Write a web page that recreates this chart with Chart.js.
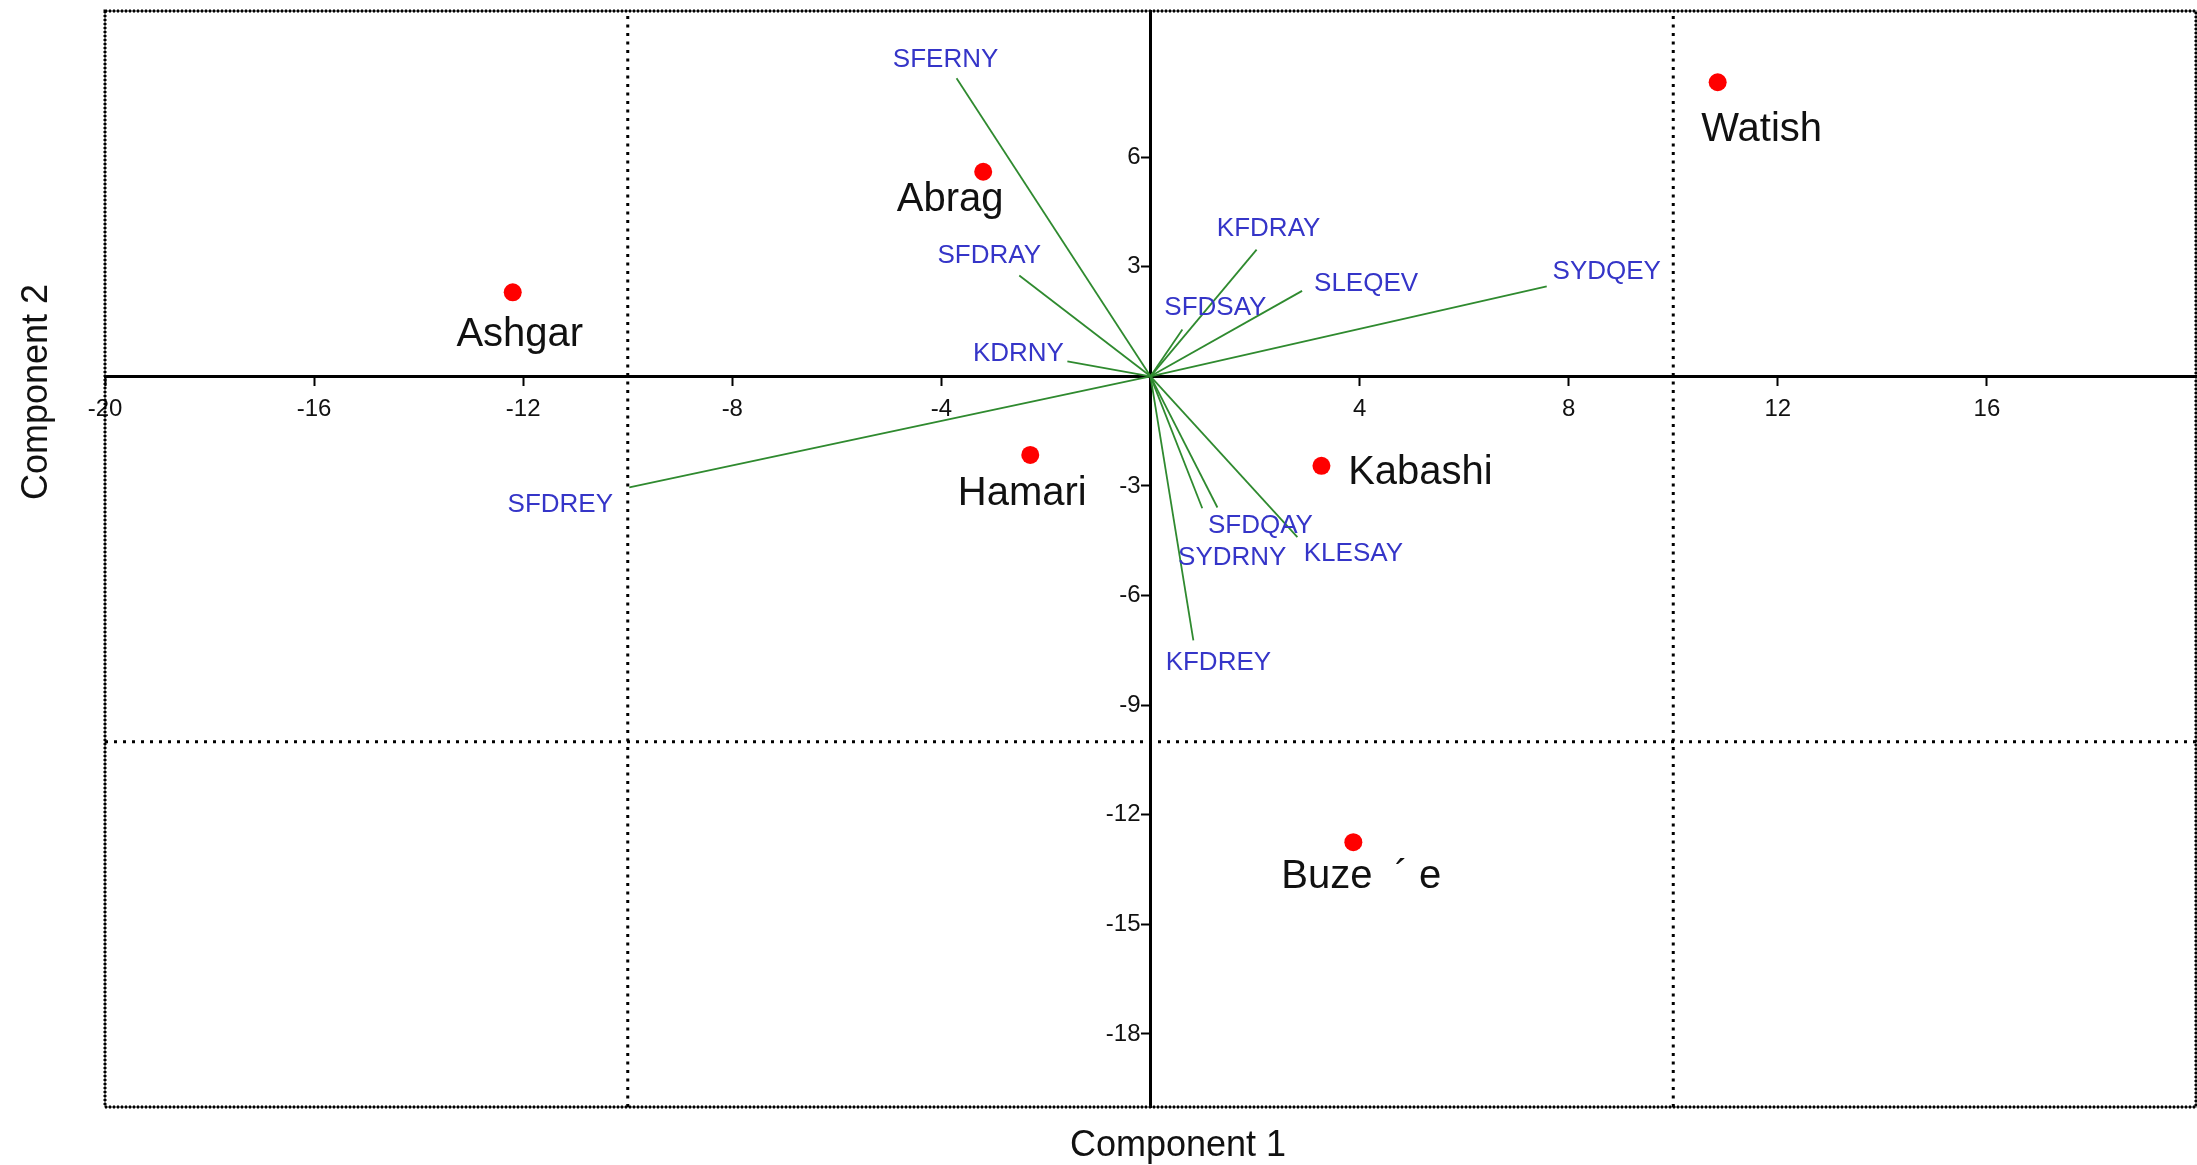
<!DOCTYPE html>
<html>
<head>
<meta charset="utf-8">
<title>PCA biplot</title>
<script src="https://cdn.jsdelivr.net/npm/chart.js@4/dist/chart.umd.min.js"></script>
<style>
  html, body { margin: 0; padding: 0; background: #fff; overflow: hidden; }
  #biplot { display: block; }
</style>
</head>
<body>
<canvas id="biplot" width="2197" height="1165"></canvas>
<script>
// sites (red points)
var siteNames = ['Ashgar', 'Abrag', 'Watish', 'Hamari', 'Kabashi', 'Buze  \u00B4 e'];
var siteX = [-12.2, -3.2, 10.85, -2.3, 3.27, 3.88];
var siteY = [2.3, 5.6, 8.05, -2.15, -2.45, -12.75];

// variable loadings (green vectors)
var varNames = ['SFERNY', 'SFDRAY', 'KDRNY', 'KFDRAY', 'SFDSAY', 'SLEQEV', 'SYDQEY', 'SFDREY', 'SFDQAY', 'SYDRNY', 'KLESAY', 'KFDREY'];
var varX = [-3.71, -2.51, -1.59, 2.03, 0.61, 2.9, 7.58, -9.97, 1.28, 0.99, 2.81, 0.82];
var varY = [8.16, 2.76, 0.41, 3.47, 1.28, 2.34, 2.46, -3.04, -3.59, -3.61, -4.4, -7.23];

// axes
var xRange = [-20, 20];
var yRange = [-20, 10];
var xTicks = [-20, -16, -12, -8, -4, 4, 8, 12, 16];
var yTicks = [6, 3, -3, -6, -9, -12, -15, -18];
var refLinesX = [-10, 10];
var refLinesY = [-10];

// label placement (pixels from the mark: text centre, cap centre)
var siteLabelOffset = [[7, 39], [-33, 25], [44, 44], [-8, 36], [99, 4], [8, 32]];
var varLabelOffset = [[-11, -21], [-30, -22], [-49, -10], [12, -23], [33, -24], [64, -9], [60, -17], [-69, 15], [43, 16], [30, 47], [56, 15], [25, 20]];

var FONT = '"Liberation Sans", Arial, sans-serif';
var green = '#2f8a2f';
var blue = '#3535c8';

var datasets = [];

datasets.push({
  label: 'sites',
  data: siteX.map(function(x, i) { return {x: x, y: siteY[i]}; }),
  pointRadius: 9,
  pointHoverRadius: 9,
  pointBackgroundColor: '#ff0000',
  pointBorderWidth: 0,
  showLine: false
});

varNames.forEach(function(name, i) {
  datasets.push({
    label: name,
    data: [{x: 0, y: 0}, {x: varX[i], y: varY[i]}],
    showLine: true,
    borderColor: green,
    borderWidth: 1.8,
    pointRadius: 0
  });
});

refLinesX.forEach(function(v) {
  datasets.push({
    label: 'x=' + v,
    data: [{x: v, y: yRange[0]}, {x: v, y: yRange[1]}],
    showLine: true,
    borderColor: '#000',
    borderWidth: 3,
    borderDash: [3, 5.5],
    pointRadius: 0
  });
});

refLinesY.forEach(function(v) {
  datasets.push({
    label: 'y=' + v,
    data: [{x: xRange[0], y: v}, {x: xRange[1], y: v}],
    showLine: true,
    borderColor: '#000',
    borderWidth: 3,
    borderDash: [3, 6],
    pointRadius: 0
  });
});

var framePlugin = {
  id: 'frame',
  beforeDatasetsDraw: function(chart) {
    var a = chart.chartArea;
    var ctx = chart.ctx;
    ctx.save();
    ctx.strokeStyle = '#000';
    ctx.lineWidth = 1;
    ctx.strokeRect(a.left, a.top, a.right - a.left, a.bottom - a.top);
    ctx.lineWidth = 3;
    ctx.setLineDash([2, 2]);
    ctx.strokeRect(a.left, a.top, a.right - a.left, a.bottom - a.top);
    ctx.restore();
  }
};

var labelPlugin = {
  id: 'pcaLabels',
  afterDatasetsDraw: function(chart) {
    var ctx = chart.ctx;
    var a = chart.chartArea;
    ctx.save();
    ctx.textAlign = 'center';
    ctx.textBaseline = 'alphabetic';

    ctx.font = '26px ' + FONT;
    ctx.fillStyle = blue;
    varNames.forEach(function(name, i) {
      var end = chart.getDatasetMeta(i + 1).data[1];
      var off = varLabelOffset[i];
      ctx.fillText(name, end.x + off[0], end.y + off[1] + 0.358 * 26);
    });

    ctx.font = '40px ' + FONT;
    ctx.fillStyle = '#111';
    var pts = chart.getDatasetMeta(0).data;
    siteNames.forEach(function(name, i) {
      var off = siteLabelOffset[i];
      ctx.fillText(name, pts[i].x + off[0], pts[i].y + off[1] + 0.358 * 40);
    });

    // axis titles
    ctx.font = '36px ' + FONT;
    ctx.fillStyle = '#111';
    ctx.fillText('Component 1', a.left + 1073, a.bottom + 49);
    ctx.translate(a.left - 58, a.top + 381);
    ctx.rotate(-Math.PI / 2);
    ctx.fillText('Component 2', 0, 0);
    ctx.restore();
  }
};

var axisBorder = {display: true, color: '#000', width: 3, dash: [2, 2]};
var axisGrid = {drawOnChartArea: false, drawTicks: true, tickLength: 8, tickWidth: 2, tickColor: '#000'};

var chart = new Chart(document.getElementById('biplot'), {
  type: 'scatter',
  data: {datasets: datasets},
  plugins: [framePlugin, labelPlugin],
  options: {
    responsive: false,
    animation: false,
    layout: {autoPadding: false, padding: {left: 105, right: 1, top: 11, bottom: 58}},
    plugins: {legend: {display: false}, tooltip: {enabled: false}},
    scales: {
      x: {
        type: 'linear',
        min: xRange[0],
        max: xRange[1],
        position: {y: 0},
        afterBuildTicks: function(s) { s.ticks = xTicks.map(function(v) { return {value: v}; }); },
        afterFit: function(s) { s.paddingLeft = 0; s.paddingRight = 0; },
        grid: axisGrid,
        border: axisBorder,
        ticks: {autoSkip: false, maxRotation: 0, padding: 11, color: '#111', font: {family: FONT, size: 24}}
      },
      y: {
        type: 'linear',
        min: yRange[0],
        max: yRange[1],
        // x range is symmetric, so the centre of the plot is x = 0
        position: 'center',
        afterBuildTicks: function(s) { s.ticks = yTicks.map(function(v) { return {value: v}; }); },
        afterFit: function(s) { s.paddingTop = 0; s.paddingBottom = 0; },
        grid: axisGrid,
        border: axisBorder,
        ticks: {autoSkip: false, padding: 2, color: '#111', font: {family: FONT, size: 24}}
      }
    }
  }
});
</script>
</body>
</html>
